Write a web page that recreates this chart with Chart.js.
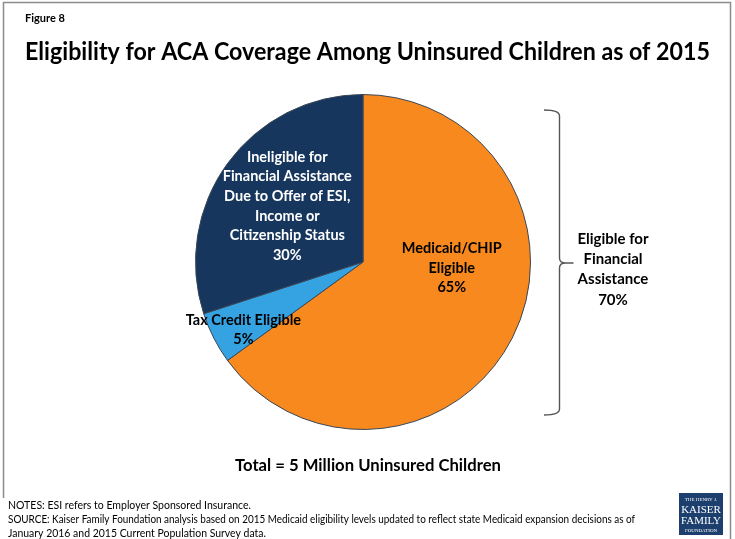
<!DOCTYPE html>
<html>
<head>
<meta charset="utf-8">
<script src="https://cdn.jsdelivr.net/npm/chart.js@4/dist/chart.umd.min.js"></script>
<style>
  html, body { margin: 0; padding: 0; background: #fff; }
  #wrap { position: relative; width: 735px; height: 539px; }
  canvas { display: block; }
</style>
</head>
<body>
<div id="wrap"><canvas id="c" width="735" height="539"></canvas></div>
<script>
// Uninsured children by ACA eligibility, 2015 (percent of 5 million)
const categories = [
  ['Medicaid/CHIP', 'Eligible'],
  ['Tax Credit Eligible'],
  ['Ineligible for', 'Financial Assistance', 'Due to Offer of ESI,', 'Income or', 'Citizenship Status']
];
const shares = [65, 5, 30];
const bracketLines = ['Eligible for', 'Financial', 'Assistance'];
const bracketMembers = [0, 1];   // slices that count as eligible for assistance

const titleText = 'Eligibility for ACA Coverage Among Uninsured Children as of 2015';
const figureText = 'Figure 8';
const totalText = 'Total = 5 Million Uninsured Children';
const notesLines = [
  'NOTES: ESI refers to Employer Sponsored Insurance.',
  'SOURCE: Kaiser Family Foundation analysis based on 2015 Medicaid eligibility levels updated to reflect state Medicaid expansion decisions as of',
  'January 2016 and 2015 Current Population Survey data.'
];

const FONT = 'Lato, "Open Sans", sans-serif';

// Per-slice label placement, in units of the pie radius from its centre
const labelSpots = [
  { dx: 0.53, dy: 0.036, color: '#000000' },
  { dx: -0.714, dy: 0.405, color: '#000000' },
  { dx: -0.452, dy: -0.333, color: '#ffffff' }
];

const decor = {
  id: 'decor',
  afterDraw(chart) {
    const ctx = chart.ctx;
    const arc0 = chart.getDatasetMeta(0).data[0];
    const cx = arc0.x, cy = arc0.y, R = arc0.outerRadius;
    ctx.save();

    // frame
    ctx.strokeStyle = '#8c8c8c';
    ctx.lineWidth = 1.5;
    ctx.beginPath();
    ctx.moveTo(3.5, 498); ctx.lineTo(3.5, 2.5); ctx.lineTo(730.5, 2.5); ctx.lineTo(730.5, 539);
    ctx.stroke();

    // heading
    ctx.fillStyle = '#000';
    ctx.textBaseline = 'alphabetic';
    ctx.textAlign = 'left';
    ctx.font = 'bold 11px ' + FONT;
    ctx.fillText(figureText, 25, 22, 46);
    ctx.font = 'bold 24px ' + FONT;
    ctx.fillText(titleText, 25, 60, 685);

    // slice labels
    ctx.textAlign = 'center';
    ctx.textBaseline = 'middle';
    ctx.font = 'bold 14.5px ' + FONT;
    const lh = 19.6;
    categories.forEach((lines, i) => {
      const spot = labelSpots[i];
      const all = lines.concat([shares[i] + '%']);
      const x = cx + spot.dx * R, y = cy + spot.dy * R;
      const top = y - (all.length - 1) * lh / 2;
      ctx.fillStyle = spot.color;
      all.forEach((t, k) => ctx.fillText(t, x, top + k * lh));
    });

    // curly bracket grouping the eligible slices
    const bx = 559.5, btop = 110, bbot = 415, bmid = 263;
    ctx.strokeStyle = '#555';
    ctx.lineWidth = 1.4;
    ctx.beginPath();
    ctx.moveTo(544, btop);
    ctx.quadraticCurveTo(bx, btop, bx, btop + 6);
    ctx.lineTo(bx, bmid - 5);
    ctx.quadraticCurveTo(bx, bmid, bx + 6, bmid);
    ctx.lineTo(bx + 14, bmid);
    ctx.moveTo(bx + 6, bmid);
    ctx.quadraticCurveTo(bx, bmid, bx, bmid + 5);
    ctx.lineTo(bx, bbot - 6);
    ctx.quadraticCurveTo(bx, bbot, 544, bbot);
    ctx.stroke();

    const eligible = bracketMembers.reduce((s, i) => s + shares[i], 0);
    const rLines = bracketLines.concat([eligible + '%']);
    ctx.fillStyle = '#000';
    ctx.font = 'bold 15px ' + FONT;
    rLines.forEach((t, k) => ctx.fillText(t, 613, 239 + k * 20.3));

    // total
    ctx.font = 'bold 17px ' + FONT;
    ctx.fillText(totalText, 368, 466, 266);

    // notes
    ctx.textAlign = 'left';
    ctx.textBaseline = 'alphabetic';
    ctx.font = '11px ' + FONT;
    ctx.fillText(notesLines[0], 8, 509, 243);
    ctx.fillText(notesLines[1], 8, 523, 627);
    ctx.fillText(notesLines[2], 8, 537, 258);

    // foundation logo
    ctx.fillStyle = '#1d3f6e';
    ctx.fillRect(679, 493, 44, 42);
    ctx.fillStyle = '#ffffff';
    ctx.textAlign = 'center';
    ctx.font = '5px "Liberation Serif", serif';
    ctx.fillText('THE HENRY J.', 701, 501, 38);
    ctx.font = '11px "Liberation Serif", serif';
    ctx.fillText('KAISER', 701, 513, 40);
    ctx.fillText('FAMILY', 701, 524, 40);
    ctx.font = '5px "Liberation Serif", serif';
    ctx.fillText('FOUNDATION', 701, 532, 38);

    ctx.restore();
  }
};

new Chart(document.getElementById('c'), {
  type: 'pie',
  data: {
    labels: categories.map(l => l.join(' ')),
    datasets: [{
      data: shares,
      backgroundColor: ['#f7891f', '#35a2e2', '#17365d'],
      borderColor: '#3a4656',
      borderWidth: 1
    }]
  },
  options: {
    responsive: false,
    animation: false,
    events: [],
    layout: { padding: { left: 195, right: 204, top: 94, bottom: 109 } },
    plugins: { legend: { display: false }, tooltip: { enabled: false } }
  },
  plugins: [decor]
});
</script>
</body>
</html>
